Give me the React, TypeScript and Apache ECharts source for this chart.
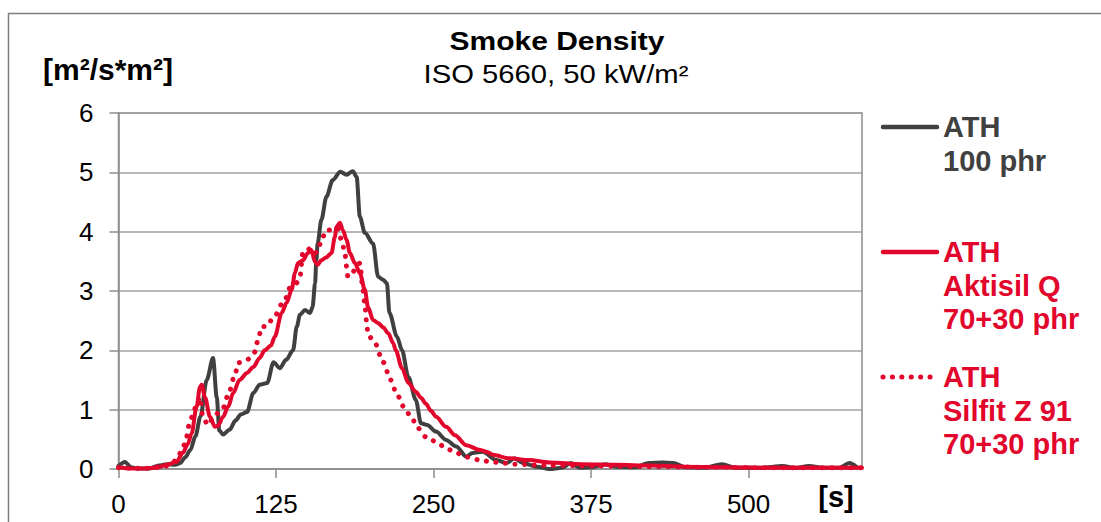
import React, { useEffect, useRef } from "react";
import * as echarts from "echarts";

// ATH 100 phr (dark grey)
const grayT = [0, 5, 10, 15, 25, 32, 38, 45, 49, 53, 57, 61, 65, 70, 75, 78, 80, 83, 88, 93, 97, 102, 107, 112, 118, 123, 128, 133, 138.5, 141.5, 144, 148, 152, 154, 156, 157, 158, 161, 165, 170, 176, 181, 186, 189, 191.5, 195.5, 202, 206, 210, 213, 215, 221, 225, 230, 236, 240, 245, 252, 260, 268, 276, 281, 289, 300, 308, 314, 321, 332, 342, 352, 359, 366, 375, 386, 395, 410, 421, 432, 440, 450, 465, 479, 490, 510, 527, 537, 548, 560, 572, 580, 586];
const grayV = [0.05, 0.12, 0.03, 0.01, 0.01, 0.06, 0.08, 0.07, 0.1, 0.2, 0.32, 0.55, 0.88, 1.5, 1.87, 1.2, 0.65, 0.58, 0.66, 0.82, 0.92, 0.96, 1.28, 1.42, 1.45, 1.8, 1.7, 1.84, 2.0, 2.4, 2.6, 2.68, 2.63, 2.73, 3.13, 3.52, 3.8, 4.2, 4.59, 4.87, 5.01, 4.96, 5.02, 4.92, 4.25, 3.98, 3.8, 3.24, 3.19, 3.13, 2.63, 2.23, 2.0, 1.55, 1.16, 0.77, 0.74, 0.63, 0.49, 0.38, 0.21, 0.27, 0.29, 0.15, 0.1, 0.18, 0.1, 0.04, 0, 0.02, 0.1, 0.02, 0.03, 0.08, 0.04, 0.03, 0.1, 0.11, 0.1, 0.03, 0.02, 0.08, 0.02, 0.02, 0.05, 0.02, 0.05, 0.02, 0.02, 0.1, 0.03];

// ATH + Aktisil Q 70+30 phr (red solid)
const aktT = [0, 10, 20, 30, 38, 46, 51, 55, 58, 62, 64.6, 66, 68.6, 72.6, 76.5, 79, 83, 87, 91, 96, 102, 107, 112, 116, 121, 124, 129.5, 133.4, 137.4, 140, 142.4, 146.4, 150.3, 153, 156, 158, 161, 165, 169, 171.7, 173, 175.7, 178, 181, 183.6, 187.6, 191.5, 195.5, 198, 202, 206, 210, 214, 218, 220, 225, 230, 236, 240, 244, 248, 252, 260, 267, 276, 287, 292, 297, 310, 326, 342, 368, 395, 422, 450, 480, 520, 560, 590];
const aktV = [0.03, 0.01, 0.01, 0.02, 0.07, 0.12, 0.27, 0.42, 0.6, 1.05, 1.38, 1.42, 1.21, 0.88, 0.71, 0.73, 0.88, 1.05, 1.28, 1.5, 1.62, 1.72, 1.87, 2.0, 2.08, 2.23, 2.63, 2.8, 3.02, 3.3, 3.47, 3.52, 3.64, 3.69, 3.49, 3.44, 3.52, 3.57, 3.64, 3.91, 4.08, 4.15, 4.03, 3.86, 3.64, 3.47, 3.3, 3.02, 2.73, 2.51, 2.46, 2.39, 2.29, 2.12, 2.0, 1.7, 1.45, 1.3, 1.2, 1.1, 0.98, 0.88, 0.71, 0.57, 0.4, 0.32, 0.29, 0.24, 0.18, 0.15, 0.11, 0.08, 0.07, 0.06, 0.04, 0.03, 0.02, 0.02, 0.02];

// ATH + Silfit Z 91 70+30 phr (red dotted)
const silT = [0, 20, 38, 43, 47, 51, 54, 56, 59, 62, 64.6, 67, 71, 76.5, 83, 87, 92.4, 95, 102, 108, 110.7, 113.6, 117.5, 122.6, 132, 136, 141, 144, 146.4, 149, 153, 156, 158, 161, 165, 169, 174, 177, 179.7, 181, 182, 185, 189, 191.5, 194, 195.5, 197, 198, 203.5, 210, 216, 221, 227, 232.6, 237.6, 244, 252, 260, 268, 277, 287, 296, 305, 314.5, 340, 380, 420, 470, 520, 590];
const silV = [0.02, 0.01, 0.05, 0.1, 0.2, 0.35, 0.54, 0.74, 0.91, 1.1, 1.21, 0.88, 0.74, 0.91, 1.03, 1.25, 1.58, 1.79, 1.84, 1.97, 2.17, 2.4, 2.4, 2.54, 2.85, 3.05, 3.13, 3.24, 3.66, 3.69, 3.72, 3.64, 3.66, 3.86, 4.03, 4.03, 4.06, 3.86, 3.64, 3.41, 3.24, 3.3, 3.39, 3.47, 3.02, 2.75, 2.46, 2.26, 2.12, 1.8, 1.5, 1.25, 1.03, 0.86, 0.69, 0.54, 0.46, 0.35, 0.27, 0.2, 0.15, 0.12, 0.1, 0.08, 0.06, 0.05, 0.04, 0.03, 0.02, 0.02];

const xTicks = [0, 125, 250, 375, 500];
const seriesNames = ["ATH 100 phr", "ATH Aktisil Q 70+30 phr", "ATH Silfit Z 91 70+30 phr"];

const GRAY = "#404040";
const RED = "#E2062C";
const AXIS = "#8c8c8c";
const FONT = "'Liberation Sans', Arial, sans-serif";

const zip = (t: number[], v: number[]) => t.map((x, i) => [x, v[i]]);

export default function App() {
  const ref = useRef<HTMLDivElement>(null);
  useEffect(() => {
    if (!ref.current) return;
    const chart = echarts.init(ref.current, undefined, { renderer: "svg" });
    const legendText = (y: number, text: string, color: string) => ({
      type: "text",
      x: 943,
      y,
      style: {
        text,
        fill: color,
        font: `bold 29px ${FONT}`,
        lineHeight: 33.5,
        textAlign: "left",
        textVerticalAlign: "top",
      },
    });
    chart.setOption({
      animation: false,
      backgroundColor: "#ffffff",
      grid: {
        left: 118.5,
        right: 1101 - 862,
        top: 113,
        bottom: 522 - 469,
        show: true,
        borderColor: AXIS,
        borderWidth: 1.5,
      },
      xAxis: {
        type: "value",
        min: 0,
        max: 590,
        interval: 125,
        axisLine: { show: true, lineStyle: { color: AXIS, width: 1.5 } },
        axisTick: { show: true, length: 9, lineStyle: { color: AXIS, width: 1.5 }, customValues: xTicks },
        axisLabel: { customValues: xTicks, color: "#000", fontFamily: FONT, fontSize: 26, margin: 22 },
        splitLine: { show: false },
      },
      yAxis: {
        type: "value",
        min: 0,
        max: 6,
        interval: 1,
        axisLine: { show: true, lineStyle: { color: AXIS, width: 1.5 } },
        axisTick: { show: true, length: 9, lineStyle: { color: AXIS, width: 1.5 } },
        axisLabel: { color: "#000", fontFamily: FONT, fontSize: 26, margin: 25 },
        splitLine: { show: true, lineStyle: { color: "#a0a0a0", width: 1.5 } },
      },
      series: [
        {
          name: seriesNames[0],
          type: "line",
          data: zip(grayT, grayV),
          showSymbol: false,
          smooth: 0.3,
          smoothMonotone: "x",
          lineStyle: { color: GRAY, width: 4, cap: "round", join: "round" },
        },
        {
          name: seriesNames[1],
          type: "line",
          data: zip(aktT, aktV),
          showSymbol: false,
          smooth: 0.3,
          smoothMonotone: "x",
          lineStyle: { color: RED, width: 4, cap: "round", join: "round" },
        },
        {
          name: seriesNames[2],
          type: "line",
          data: zip(silT, silV),
          showSymbol: false,
          smooth: 0.3,
          smoothMonotone: "x",
          lineStyle: { color: RED, width: 5, type: [0.1, 9.5], cap: "round" },
        },
      ],
      graphic: [
        {
          type: "rect",
          shape: { x: 8.5, y: 13.5, width: 1100, height: 520 },
          style: { fill: "none", stroke: "#7f7f7f", lineWidth: 1.5 },
          silent: true,
          z: -10,
        },
        {
          type: "text",
          x: 557,
          y: 41,
          scaleX: 1.2,
          style: { text: "Smoke Density", fill: "#000", font: `bold 25px ${FONT}`, textAlign: "center", textVerticalAlign: "middle" },
        },
        {
          type: "text",
          x: 556,
          y: 74,
          scaleX: 1.17,
          style: { text: "ISO 5660, 50 kW/m²", fill: "#000", font: `25px ${FONT}`, textAlign: "center", textVerticalAlign: "middle" },
        },
        {
          type: "text",
          x: 43,
          y: 69,
          style: { text: "[m²/s*m²]", fill: "#000", font: `bold 30px ${FONT}`, textAlign: "left", textVerticalAlign: "middle" },
        },
        {
          type: "text",
          x: 836,
          y: 497,
          style: { text: "[s]", fill: "#000", font: `bold 29px ${FONT}`, textAlign: "center", textVerticalAlign: "middle" },
        },
        {
          type: "line",
          shape: { x1: 883, y1: 127, x2: 937, y2: 127 },
          style: { stroke: GRAY, lineWidth: 4.5, lineCap: "round" },
        },
        legendText(127 - 16.75, "ATH\n100 phr", GRAY),
        {
          type: "line",
          shape: { x1: 883, y1: 252, x2: 937, y2: 252 },
          style: { stroke: RED, lineWidth: 4.5, lineCap: "round" },
        },
        legendText(252 - 16.75, "ATH\nAktisil Q\n70+30 phr", RED),
        {
          type: "line",
          shape: { x1: 883, y1: 377, x2: 931, y2: 377 },
          style: { stroke: RED, lineWidth: 5, lineCap: "round", lineDash: [0.1, 9.3] },
        },
        legendText(377 - 16.75, "ATH\nSilfit Z 91\n70+30 phr", RED),
      ],
    });
    return () => chart.dispose();
  }, []);
  return (
    <div
      ref={ref}
      style={{ position: "absolute", left: 0, top: 0, width: 1101, height: 522, background: "#fff" }}
    />
  );
}
